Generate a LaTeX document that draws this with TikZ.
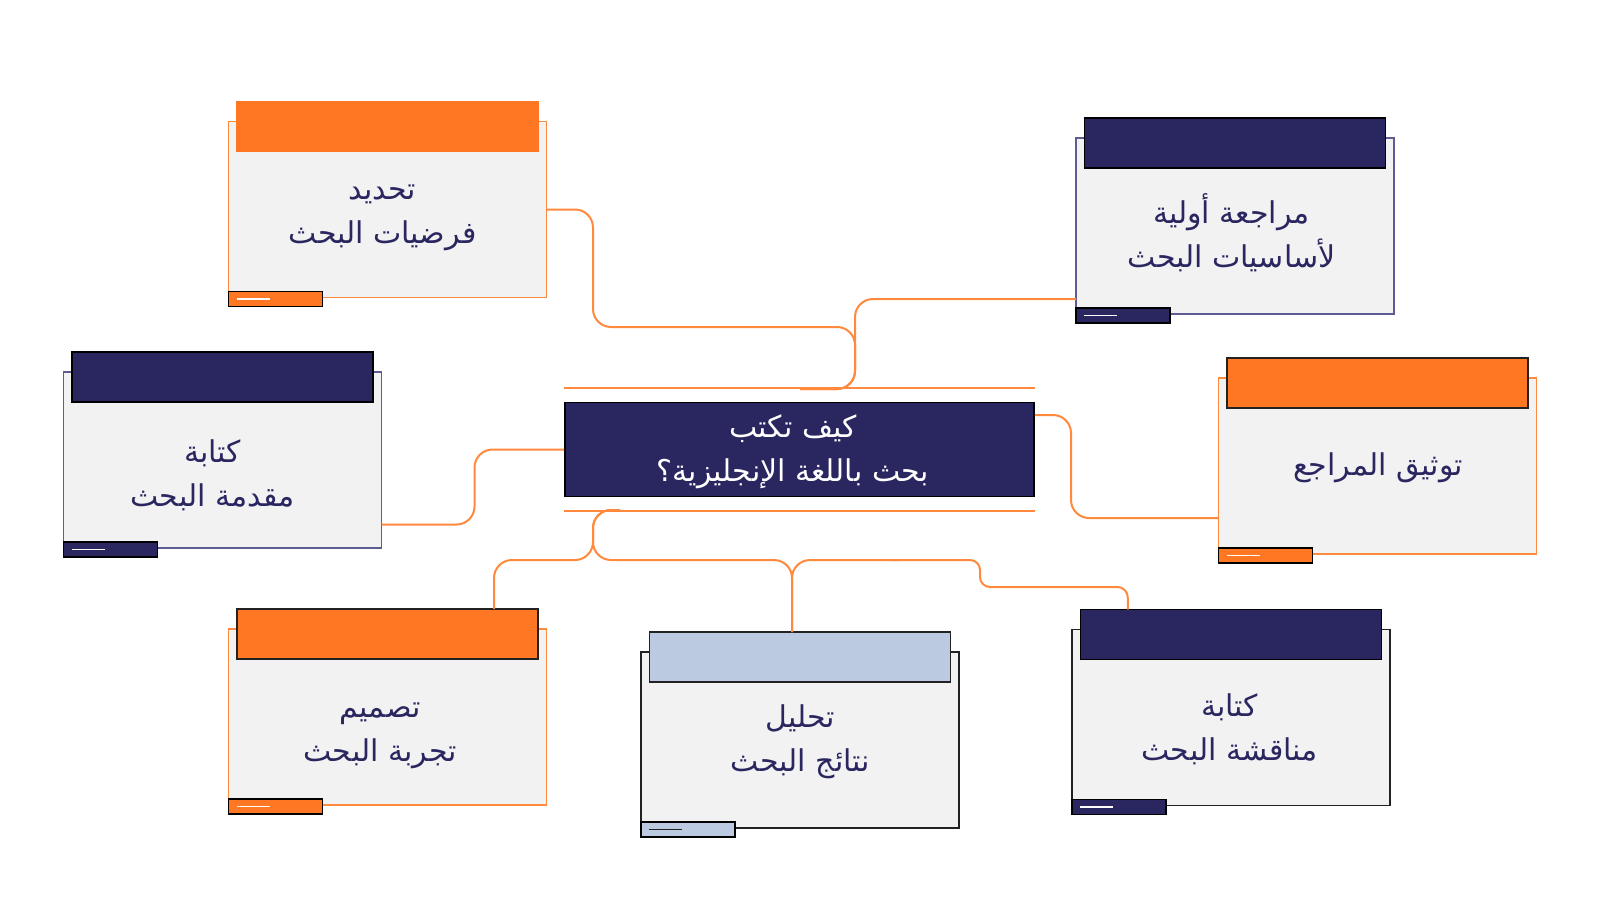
\documentclass[tikz,border=0pt]{standalone}
\usepackage{fontspec}
\newfontfamily\arabicfont[Script=Arabic]{DejaVu Sans}
\TeXXeTstate=1
\usetikzlibrary{calc}
\definecolor{navy}{HTML}{2A2660}
\definecolor{orangeH}{HTML}{FF7722}
\definecolor{connc}{HTML}{FF8A3D}
\definecolor{panelfill}{HTML}{F2F2F2}
\definecolor{lightblue}{HTML}{BBCAE0}
\definecolor{navyborder}{HTML}{5F5C94}
\definecolor{darkborder}{HTML}{222222}
\tikzset{
  panel/.style={fill=panelfill, line width=0.9pt, minimum width=159pt, minimum height=88pt, inner sep=0pt, outer sep=0pt},
  header/.style={line width=0.9pt, minimum width=150.5pt, minimum height=25pt, inner sep=0pt, outer sep=0pt},
  footer/.style={draw=black, line width=0.9pt, minimum width=47pt, minimum height=7.5pt, inner sep=0pt, outer sep=0pt, anchor=north west},
  conn/.style={draw=connc, line width=1pt, rounded corners=9pt},
  lbl/.style={text=navy, font=\arabicfont\fontsize{15}{22}\selectfont, align=center, inner sep=0pt},
}
% #1 name, #2 cx, #3 cy, #4 border, #5 head fill, #6 head border, #7 foot fill, #8 foot line colour
\newcommand{\drawpanel}[8]{%
  \node[panel, draw=#4] (b#1) at (#2,#3) {};
  \node[header, fill=#5, draw=#6] (h#1) at (#2,#3-83) {};
  \node[footer, fill=#7] (f#1) at ($(b#1.south west)+(0,-6)$) {};
  \draw[#8, line width=0.8pt] ($(f#1.west)+(8,0)$) -- ++(33,0);
}
\begin{document}
\begin{tikzpicture}[x=0.5pt, y=-0.5pt]
\useasboundingbox (0,0) rectangle (1600,900);
\fill[white] (0,0) rectangle (1600,900);

% central node
\node[fill=navy, draw=black, line width=0.9pt, minimum width=234.5pt, minimum height=47pt, inner sep=0pt] (c) at (799.5,449.5) {};
\node[lbl, text=white] (tc) at (793,452) {\beginR كيف تكتب\endR\\\beginR بحث باللغة الإنجليزية؟\endR};
\draw[conn] ($(c.north west)+(0,-14)$) -- ($(c.north east)+(0,-14)$);
\draw[conn] ($(c.south west)+(0,14)$) -- ($(c.south east)+(0,14)$);

% panels
\drawpanel{1}{387.5}{209.5}{connc}{orangeH}{orangeH}{orangeH}{white}
\drawpanel{2}{222.5}{460}{navyborder}{navy}{black}{navy}{white}
\drawpanel{4}{1235}{226}{navyborder}{navy}{black}{navy}{white}
\drawpanel{5}{1377.5}{466}{connc}{orangeH}{darkborder}{orangeH}{white}
\drawpanel{6}{387.5}{717}{connc}{orangeH}{darkborder}{orangeH}{white}
\drawpanel{3}{800}{740}{darkborder}{lightblue}{darkborder}{lightblue}{darkborder}
\drawpanel{7}{1231}{717.5}{darkborder}{navy}{black}{navy}{white}

% texts
\node[lbl] (t1) at (382.5,218) {\beginR تحديد\endR\\\beginR فرضيات البحث\endR};
\node[lbl] (t2) at (212.5,475) {\beginR كتابة\endR\\\beginR مقدمة البحث\endR};
\node[lbl] (t4) at (1231.5,233) {\beginR مراجعة أولية\endR\\\beginR لأساسيات البحث\endR};
\node[lbl] (t5) at (1378,468) {\beginR توثيق المراجع\endR};
\node[lbl] (t6) at (380,736) {\beginR تصميم\endR\\\beginR تجربة البحث\endR};
\node[lbl] (t3) at (800.5,742) {\beginR تحليل\endR\\\beginR نتائج البحث\endR};
\node[lbl] (t7) at (1229.5,729) {\beginR كتابة\endR\\\beginR مناقشة البحث\endR};

% connectors
\draw[conn] (b1.east) -- (593,209.5) -- (593,327) -- (855,327) -- (855,389) -- (800,389);
\draw[conn] ($(b4.south west)+(0,-15)$) -- (855,299) -- (855,389) -- (800,389);
\draw[conn] ($(c.east)+(0,-34.5)$) -- (1071,415) -- (1071,518) -- ($(b5.west)+(0,52)$);
\draw[conn] (c.west) -- (474.5,449.5) -- (474.5,524.5) -- ($(b2.east)+(0,64.5)$);
\draw[conn] (620,510) -- (593,510) -- (593,560) -- (494,560) -- ($(h6.north)+(106.5,0)$);
\draw[conn] (620,510) -- (593,510) -- (593,560) -- (792,560) -- ($(h3.north)+(-8,0)$);
\draw[conn] ($(h3.north)+(-8,0)$) -- (792,560) -- (900,560);
\draw[conn, rounded corners=5pt] (890,560) -- (980,560) -- (980,587) -- (1127.5,587) -- ($(h7.north)+(-103,0)$);
\end{tikzpicture}
\end{document}
